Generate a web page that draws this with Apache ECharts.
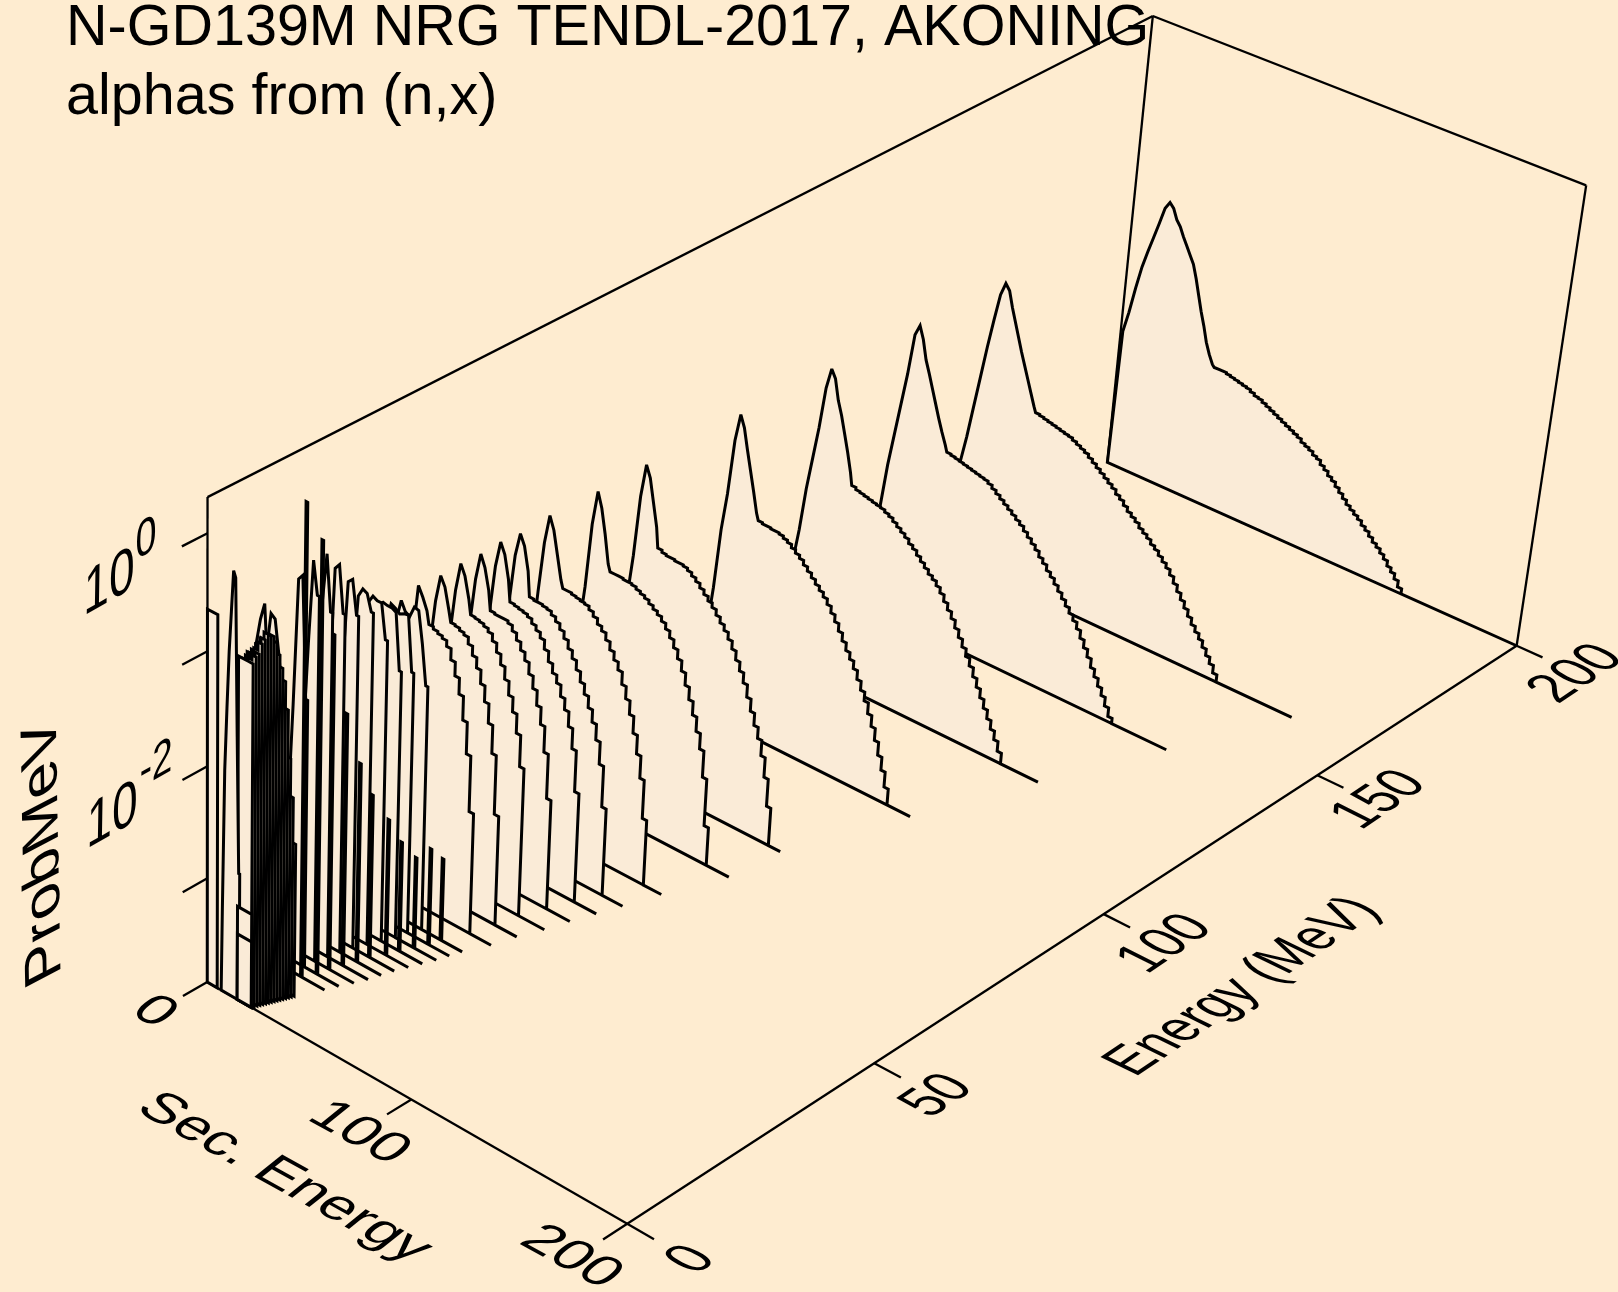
<!DOCTYPE html>
<html><head><meta charset="utf-8">
<style>html,body{margin:0;padding:0;background:#FEECD0}#c{width:1618px;height:1292px}</style>
<script src="https://cdn.jsdelivr.net/npm/echarts@6/dist/echarts.min.js"></script>
</head><body><div id="c"></div>
<script>
// ---------- axis scales ----------
const secRange = [0, 200];
const energyRange = [0, 200];
const logRange = [-3.95, 0.3];
const secTicks = [0, 100, 200];
const energyTicks = [0, 50, 100, 150, 200];
const logTicks = [0, -1, -2, -3];

// ---------- spectra: log10(Prob/MeV) in bins, one array per incident energy ----------
const s200=[-2.65,-2.45,-2.2,-1.98,-1.82,-1.67,-1.52,-1.36,-1.29,-1.33,-1.42,-1.47,-1.55,-1.62,-1.69,-1.76,-1.88,-2.02,-2.16,-2.28,-2.42,-2.52,-2.6,-2.62,-2.62,-2.62,-2.63,-2.64,-2.65,-2.66,-2.67,-2.68,-2.7,-2.72,-2.73,-2.75,-2.77,-2.79,-2.81,-2.83,-2.85,-2.87,-2.89,-2.91,-2.93,-2.96,-2.98,-3,-3.03,-3.05,-3.09,-3.12,-3.16,-3.19,-3.23,-3.27,-3.31,-3.35,-3.38,-3.41,-3.44,-3.48,-3.51,-3.55,-3.59,-3.62,-3.66,-3.7,-3.75,-3.79,-3.84,-3.9];
const s160=[-3.3,-3,-2.75,-2.45,-2.15,-1.85,-1.58,-1.33,-1.21,-1.26,-1.4,-1.52,-1.64,-1.76,-1.87,-1.98,-2.09,-2.2,-2.25,-2.26,-2.27,-2.28,-2.29,-2.3,-2.31,-2.32,-2.33,-2.35,-2.37,-2.39,-2.41,-2.44,-2.47,-2.5,-2.53,-2.56,-2.59,-2.62,-2.66,-2.69,-2.73,-2.77,-2.8,-2.83,-2.87,-2.9,-2.93,-2.97,-3,-3.04,-3.08,-3.12,-3.17,-3.23,-3.29,-3.35,-3.41,-3.47,-3.53,-3.58,-3.63,-3.69,-3.75,-3.81,-3.88];
const s140=[-3.5,-3.2,-2.95,-2.55,-2.25,-1.95,-1.65,-1.27,-1.17,-1.28,-1.45,-1.56,-1.68,-1.8,-1.92,-2.03,-2.13,-2.19,-2.2,-2.21,-2.22,-2.23,-2.24,-2.25,-2.26,-2.27,-2.28,-2.3,-2.33,-2.36,-2.39,-2.42,-2.45,-2.48,-2.51,-2.54,-2.58,-2.62,-2.66,-2.7,-2.75,-2.79,-2.84,-2.88,-2.93,-2.98,-3.03,-3.08,-3.13,-3.18,-3.24,-3.31,-3.38,-3.45,-3.53,-3.6,-3.67,-3.74,-3.82,-3.9];
const s120=[-3.6,-3.3,-3,-2.7,-2.3,-2,-1.7,-1.32,-1.13,-1.2,-1.38,-1.5,-1.65,-1.8,-1.97,-2.08,-2.1,-2.11,-2.12,-2.13,-2.14,-2.15,-2.16,-2.18,-2.2,-2.23,-2.26,-2.29,-2.32,-2.36,-2.39,-2.43,-2.47,-2.51,-2.55,-2.58,-2.62,-2.67,-2.73,-2.79,-2.85,-2.92,-2.99,-3.06,-3.13,-3.2,-3.28,-3.36,-3.44,-3.52,-3.6,-3.68,-3.76,-3.85];
const s100=[-3.8,-3.6,-3.4,-3.15,-2.75,-2.2,-1.85,-1.35,-1.1,-1.2,-1.38,-1.55,-1.72,-1.9,-1.96,-1.97,-1.97,-1.98,-1.98,-1.99,-2.01,-2.03,-2.06,-2.09,-2.12,-2.16,-2.2,-2.24,-2.28,-2.32,-2.36,-2.41,-2.47,-2.53,-2.6,-2.67,-2.74,-2.8,-2.87,-2.95,-3.03,-3.11,-3.21,-3.31,-3.42,-3.54,-3.66,-3.8];
const s80=[-3.9,-3.8,-3.6,-3.3,-2.9,-2.35,-1.95,-1.4,-1.1,-1.2,-1.4,-1.6,-1.78,-1.8,-1.81,-1.81,-1.82,-1.82,-1.83,-1.85,-1.88,-1.91,-1.95,-1.99,-2.03,-2.07,-2.12,-2.17,-2.22,-2.28,-2.35,-2.43,-2.51,-2.6,-2.71,-2.82,-2.93,-3.03,-3.17,-3.35,-3.6];
const s70=[-3.9,-3.8,-3.6,-3.3,-2.9,-2.4,-2,-1.42,-1.11,-1.24,-1.45,-1.7,-1.76,-1.76,-1.76,-1.77,-1.77,-1.78,-1.8,-1.82,-1.84,-1.87,-1.9,-1.93,-1.97,-2.02,-2.08,-2.15,-2.23,-2.32,-2.43,-2.54,-2.66,-2.79,-2.93,-3.17,-3.6];
const s60=[-3.9,-3.8,-3.6,-3.3,-2.85,-2.3,-1.8,-1.35,-1.09,-1.2,-1.4,-1.6,-1.67,-1.67,-1.68,-1.69,-1.7,-1.71,-1.74,-1.78,-1.83,-1.87,-1.93,-2,-2.07,-2.14,-2.25,-2.36,-2.48,-2.63,-2.8,-3,-3.35];
const s54=[-3.9,-3.8,-3.6,-3.3,-2.85,-2.3,-1.75,-1.32,-1.11,-1.2,-1.4,-1.62,-1.63,-1.63,-1.64,-1.65,-1.68,-1.72,-1.77,-1.83,-1.9,-1.97,-2.05,-2.14,-2.23,-2.33,-2.44,-2.58,-2.78,-3.15];
const s50=[-3.9,-3.8,-3.6,-3.3,-2.85,-2.3,-1.75,-1.32,-1.09,-1.18,-1.38,-1.57,-1.58,-1.59,-1.6,-1.62,-1.66,-1.7,-1.75,-1.83,-1.92,-2,-2.07,-2.17,-2.27,-2.4,-2.58,-2.95];
const s46=[-3.9,-3.8,-3.6,-3.3,-2.85,-2.3,-1.75,-1.34,-1.1,-1.2,-1.38,-1.55,-1.56,-1.56,-1.56,-1.58,-1.63,-1.69,-1.76,-1.83,-1.93,-2.04,-2.17,-2.32,-2.55,-2.95];
const s42=[-3.9,-3.8,-3.6,-3.3,-2.85,-2.3,-1.75,-1.34,-1.09,-1.18,-1.36,-1.49,-1.5,-1.51,-1.53,-1.56,-1.62,-1.7,-1.79,-1.9,-2.02,-2.15,-2.32,-2.6];
const s38=[-3.9,-3.8,-3.6,-3.3,-2.85,-2.3,-1.75,-1.34,-1.1,-1.18,-1.36,-1.46,-1.47,-1.49,-1.51,-1.57,-1.65,-1.74,-1.86,-2,-2.17,-2.42,-2.95];
const s34=[-3.9,-3.7,-3.45,-3.1,-2.6,-2.05,-1.55,-1.1,-1.18,-1.28,-1.39,-1.41,-1.43,-1.45,-1.5,-1.6,-1.72,-1.86,-2.07,-2.35,-2.85];
const s30=[-3.9,-3.8,-3.6,-3.3,-2.85,-2.3,-1.8,-1.3,-1.12,-1.2,-1.22,-1.12,-1.13,-1.4,-1.75];
const s28=[-3.9,-3.8,-3.6,-3.3,-2.85,-2.3,-1.8,-1.3,-1.1,-1.12,-1.15,-1.13,-1.12,-1.6];
const s26=[-3.9,-3.7,-3.4,-3.05,-2.6,-2.1,-1.6,-1.07,-1.03,-1.04,-1.04,-1.06,-1.55];
const s24=[-3.9,-3.7,-3.4,-3.05,-2.6,-2.1,-1.55,-1,-0.93,-0.95,-0.95,-1.25];
const s22=[-3.9,-3.7,-3.4,-3.05,-2.6,-2.05,-1.5,-0.9,-0.82,-0.84,-0.98];
const s20=[-3.9,-3.7,-3.4,-3.05,-2.55,-2,-1.5,-0.73,-0.69,-0.98];
const s18=[-3.9,-3.7,-3.4,-3,-2.7,-2.3,-1.6,-0.58,-0.53,-0.93];
const s16=[-3.9,-3.6,-3.2,-2.9,-2.5,-1.8,-0.85,-0.4,-0.88];
const s14=[-3.9,-3.6,-3.2,-2.9,-2.8,-2,-1.15,-0.42,-0.7];
const s12=[-3.9,-3.6,-3.3,-3,-2.6,-1.65,-0.55,-0.5,-1.55];
const s10=[-1.7,-1.2,-0.87,-0.9,-1.2,-1.6,-2.1,-2.7];
const s8=[-2.2,-1.1,-0.87,-0.72,-1.4,-2.1,-2.8];
const s6=[-2.8,-2.75,-2.7,-2.65,-2.6,-2.57];
const s5p6=[-2.35,-2.3,-2.25,-2.2,-2.17,-2.15];
const s5p2=[-1.95,-1.92,-1.89,-1.86,-1.83,-1.8];
const s4p8=[-1.5,-1.47,-1.45,-1.42,-1.39,-1.37];
const s4p4=[-1.25,-1.22,-1.2,-1.17,-1.14,-1.12];
const s4=[-1.1,-1.08,-1.06,-1.04,-1.02,-1];
const s3p6=[-1.02,-0.99,-0.96,-0.93,-0.9,-0.88];
const s3p2=[-1,-0.96,-0.92,-0.87,-0.82,-0.77];
const s2p8=[-0.97,-0.92,-0.86,-0.78,-0.71];
const s2p4=[-0.94,-0.89,-0.84,-0.77,-0.7];
const s2=[-0.92,-0.88,-0.82,-0.75,-0.68];
const s1p6=[-0.92,-0.87,-0.8,-0.72];
const s1p2=[-0.92,-0.88,-0.82,-0.75];
const s0p8=[-0.92,-0.88,-0.83];
const s0p4=[-0.92,-0.89,-0.85];
const s0box=[-0.9,-0.9,-0.9];
const s0peak=[-3.2,-1.95,-1.4,-0.9,-0.55,-0.2,-0.25,-1.6,-2.8];
const s0low=[-0.64];
const s0faintA=[-3.1];
const s0faintB=[-3.35];

// per spectrum: incident energy, first-bin energy, bin width, values, last baseline energy, discrete line [energy, log10]
const incident   =[200,160,140,120,100,80,70,60,54,50,46,42,38,34,30,28,26,24,22,20,18,16,14,12,10,8,6,5.6,5.2,4.8,4.4,4,3.6,3.2,2.8,2.4,2,1.6,1.2,0.8,0.4,0,0,0,0,0];
const firstBin   =[0,0,0,0,0,-0.5,-1,-1,-1,-1,-1,-1,-1,0,0,0,1,1,1,1,0,1,0,0,0,0,16,15.6,15.2,14.8,14.4,14,13.6,13.2,14.8,14.4,14,15.6,15.2,16.8,16.4,15,7,0,15,15];
const binWidth   =[2.02,2.05,2.05,2.05,2.05,2.08,2.11,2.13,2.135,2.135,2.14,2.14,2.145,2.17,2.1,2.1,2.1,2.1,2.1,2.1,2.05,2.05,2,2,2,2,2,2,2,2,2,2,2,2,2,2,2,2,2,2,2,2.33,1,5,7,7];
const baselineEnd=[200,169,149,128.6,109.5,90.5,88,78,73,69.5,66,63,59,56,51.5,50,48.5,46.5,44.5,42.5,41,39.5,37.5,35,33,23,28,27.6,27.2,26.8,26.4,26,25.6,25.2,24.8,24.4,24,23.6,23.2,22.8,22.4,22,16,5,22,22];
const peakLimit  =[46,36,35,30,28,24,24,24,22,22,22,22,22,21,99,99,99,99,99,99,99,99,99,99,99,99,0,0,0,0,0,0,0,0,0,0,0,0,0,0,0,0,99,0,0,0];
const spectrumBins=[s200,s160,s140,s120,s100,s80,s70,s60,s54,s50,s46,s42,s38,s34,s30,s28,s26,s24,s22,s20,s18,s16,s14,s12,s10,s8,s6,s5p6,s5p2,s4p8,s4p4,s4,s3p6,s3p2,s2p8,s2p4,s2,s1p6,s1p2,s0p8,s0p4,s0box,s0peak,s0low,s0faintA,s0faintB];
const lineEnergy =[30,28,26,24,22,20,18,16,14,12,10];
const lineSec    =[41,39.8,37.5,35.1,33.5,30.2,29,27,25.2,24.2,21.5];
const lineLog    =[-3.2,-3.07,-3.12,-2.95,-2.71,-2.47,-2.15,-1.68,-0.96,-0.12,0.22];

// ---------- view of the box: image of its corners ([u,v,w] -> [x,y]) ----------
const viewCorners=[[0,0,0,207.5,982],[1,0,0,627,1224],[1,1,0,1517,645],[0,1,0,1107,463],[0,0,1,207.5,497],[0,1,1,1153,15.5],[1,1,1,1586,186]];
function solveView(){
  const A=[],b=[];
  viewCorners.forEach(([u,v,w,x,y])=>{
    A.push([u,v,w,1,0,0,0,0,-x*u,-x*v,-x*w]);b.push(x);
    A.push([0,0,0,0,u,v,w,1,-y*u,-y*v,-y*w]);b.push(y);
  });
  const n=11,M=[];
  for(let i=0;i<n;i++){M[i]=[];for(let j=0;j<=n;j++){let t=0;for(let k=0;k<A.length;k++)t+=A[k][i]*(j<n?A[k][j]:b[k]);M[i][j]=t;}}
  for(let c=0;c<n;c++){let p=c;for(let r=c+1;r<n;r++)if(Math.abs(M[r][c])>Math.abs(M[p][c]))p=r;
    [M[c],M[p]]=[M[p],M[c]];
    for(let r=0;r<n;r++)if(r!==c){const f=M[r][c]/M[c][c];for(let j=c;j<=n;j++)M[r][j]-=f*M[c][j];}}
  return M.map((r,i)=>r[n]/r[i]);
}
const H=solveView();
function project(sec,energy,lg){
  const u=(sec-secRange[0])/(secRange[1]-secRange[0]),v=(energy-energyRange[0])/(energyRange[1]-energyRange[0]),w=(lg-logRange[0])/(logRange[1]-logRange[0]);
  const d=H[8]*u+H[9]*v+H[10]*w+1;
  return [(H[0]*u+H[1]*v+H[2]*w+H[3])/d,(H[4]*u+H[5]*v+H[6]*w+H[7])/d];
}

// ---------- outlines ----------
const floorLog=logRange[0],topLog=logRange[1];
function outline(i){
  const E=incident[i],w=binWidth[i],vals=spectrumBins[i],lim=peakLimit[i];
  let s=firstBin[i];const pts=[project(s,E,floorLog)];
  vals.forEach((val,j)=>{
    const l=Math.max(val,floorLog);
    if(s+w/2<lim){ pts.push(project(s+w/2,E,l)); if(j===vals.length-1)pts.push(project(s+w,E,l)); }
    else { pts.push(project(s,E,l)); pts.push(project(s+w,E,l)); }
    s+=w;
  });
  pts.push(project(s,E,floorLog));
  const k=lineEnergy.indexOf(E);
  if(k>=0){const a=lineSec[k]-0.4,b=lineSec[k]+0.4,l=lineLog[k];
    pts.push(project(a,E,floorLog),project(a,E,l),project(b,E,l),project(b,E,floorLog));}
  pts.push(project(baselineEnd[i],E,floorLog));
  return pts;
}
const TL=4.7; // tick length along axes, MeV
const frameEdges=[
 [0,0,floorLog,0,0,topLog],[0,0,topLog,0,200,topLog],[0,200,topLog,200,200,topLog],[200,200,topLog,200,200,floorLog],
 [0,200,floorLog,0,200,topLog],[0,0,floorLog,200,0,floorLog],[200,0,floorLog,200,200,floorLog]];
const frameRows=frameEdges.slice();
secTicks.forEach(t=>frameRows.push([t,0,floorLog,t,-TL,floorLog]));
energyTicks.forEach(t=>frameRows.push([200,t,floorLog,212,t,floorLog]));
logTicks.forEach(t=>frameRows.push([0,0,t,0,-TL,t]));

// ---------- sheared text ----------
const FONT='"Liberation Sans",Arial,Helvetica,sans-serif',F=50;
const floorX=[51,28.2],floorUp=[44.1,-30.3],engX=[40,-27],engUp=[-52.6,-28],numX=[41,-27.5],wallX=[46,-26],wallUp=[0,-63],probX=[-1.2,-62.6],probUp=[-51,32];
const labelRows=[
 ['Sec. Energy',284,1178,floorX,floorUp,1],['0',154,1012,floorX,floorUp,1],['100',359,1133,floorX,floorUp,1],['200',571,1257,floorX,floorUp,1],
 ['0',692,1260,numX,engUp,1],['50',938,1096,numX,engUp,1],['100',1166,944,numX,engUp,1],['150',1380,800,numX,engUp,1],['200',1577,674,numX,engUp,1],
 ['Energy (MeV)',1243,987,engX,engUp,1],
 ['10',109,584,wallX,wallUp,1],['0',146,540,wallX,wallUp,0.82],['10',112,817,wallX,wallUp,1],['-2',156,765,wallX,wallUp,0.8],
 ['ProbMeV',44,851,probX,probUp,1]];
function textEl(r,api){
  const [txt,cx,cy,xv,up,k]=r;
  const a=xv[0]/F*k,b=xv[1]/F*k,c=-up[0]/F*k,d=-up[1]/F*k;
  const rot=Math.atan2(-b,a),ct=Math.cos(rot),st=Math.sin(rot);
  const ai=ct*a-st*b,ci=ct*c-st*d,di=st*c+ct*d;
  const p=api.coord([cx,cy]);
  return {type:'text',x:p[0],y:p[1],rotation:rot,scaleX:ai,scaleY:di,skewX:Math.atan(ci/ai),
    style:{text:txt,fontSize:F,fontFamily:FONT,fill:'#000',align:'center',verticalAlign:'middle'}};
}

const lineColor='#000',fillColor='#FAEBD7';
const chart=echarts.init(document.getElementById('c'),null,{renderer:'canvas'});
chart.setOption({
  animation:false,backgroundColor:'#FEECD0',
  title:{text:'N-GD139M NRG TENDL-2017, AKONING\nalphas from (n,x)',left:66,top:-5.5,padding:0,
    textStyle:{fontFamily:FONT,fontSize:57.5,fontWeight:'normal',color:'#000',lineHeight:69}},
  grid:{left:0,right:0,top:0,bottom:0},
  xAxis:{type:'value',min:0,max:1618,show:false},
  yAxis:{type:'value',min:0,max:1292,inverse:true,show:false},
  series:[
   {type:'custom',coordinateSystem:'cartesian2d',silent:true,clip:false,z:1,data:frameRows,
    renderItem(params,api){
      const r=frameRows[params.dataIndex];
      const a=api.coord(project(r[0],r[1],r[2])),b=api.coord(project(r[3],r[4],r[5]));
      return {type:'line',shape:{x1:a[0],y1:a[1],x2:b[0],y2:b[1]},style:{stroke:lineColor,lineWidth:2.3}};
    }},
   {type:'custom',coordinateSystem:'cartesian2d',silent:true,clip:false,z:2,data:incident.map((e,i)=>[i,e]),
    renderItem(params,api){
      const pts=outline(params.dataIndex).map(p=>api.coord(p));
      return {type:'polygon',shape:{points:pts},style:{fill:fillColor,stroke:lineColor,lineWidth:3,lineJoin:'miter',miterLimit:3}};
    }},
   {type:'custom',coordinateSystem:'cartesian2d',silent:true,clip:false,z:3,data:labelRows.map((r,i)=>[i]),
    renderItem(params,api){return textEl(labelRows[params.dataIndex],api);}}
  ]
});
</script></body></html>
